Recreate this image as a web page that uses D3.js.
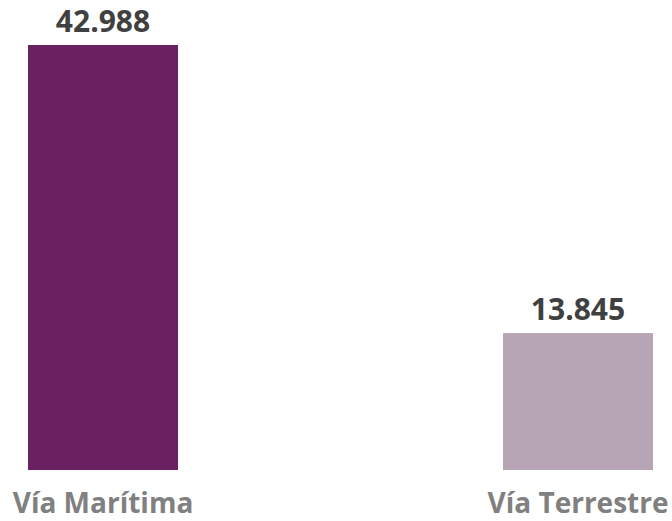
<!DOCTYPE html>
<html>
<head>
<meta charset="utf-8">
<script src="https://cdn.jsdelivr.net/npm/d3@7"></script>
<style>
  html, body { margin: 0; padding: 0; background: #fff; }
  svg text { font-family: 'Open Sans', sans-serif; font-weight: 700; }
</style>
</head>
<body>
<div id="chart"></div>
<script>
const categories = ['Vía Marítima', 'Vía Terrestre']
const values = [42988, 13845]
const valueLabels = ['42.988', '13.845']
const colors = ['#6b2062', '#b7a5b5']

const width = 672
const height = 521

const svg = d3.select('#chart').append('svg')
  .attr('width', width)
  .attr('height', height)

const x = d3.scaleBand()
  .domain(categories)
  .range([28, 653])
  .paddingInner(0.6842)
  .paddingOuter(0)

const y = d3.scaleLinear()
  .domain([0, d3.max(values)])
  .range([470, 45])

const data = categories.map((c, i) => ({ cat: c, value: values[i], label: valueLabels[i], color: colors[i] }))

// bars
svg.selectAll('rect.bar')
  .data(data)
  .enter()
  .append('rect')
  .attr('class', 'bar')
  .attr('x', d => x(d.cat))
  .attr('y', d => y(d.value))
  .attr('width', x.bandwidth())
  .attr('height', d => y(0) - y(d.value))
  .attr('fill', d => d.color)

// value labels above bars
svg.selectAll('text.value')
  .data(data)
  .enter()
  .append('text')
  .attr('class', 'value')
  .attr('x', d => x(d.cat) + x.bandwidth() / 2)
  .attr('y', d => y(d.value) - 13)
  .attr('text-anchor', 'middle')
  .attr('font-size', 30)
  .attr('fill', '#404040')
  .text(d => d.label)

// category labels
svg.selectAll('text.cat')
  .data(data)
  .enter()
  .append('text')
  .attr('class', 'cat')
  .attr('x', d => x(d.cat) + x.bandwidth() / 2)
  .attr('y', y(0) + 43)
  .attr('text-anchor', 'middle')
  .attr('font-size', 28)
  .attr('fill', '#808080')
  .text(d => d.cat)
</script>
</body>
</html>
